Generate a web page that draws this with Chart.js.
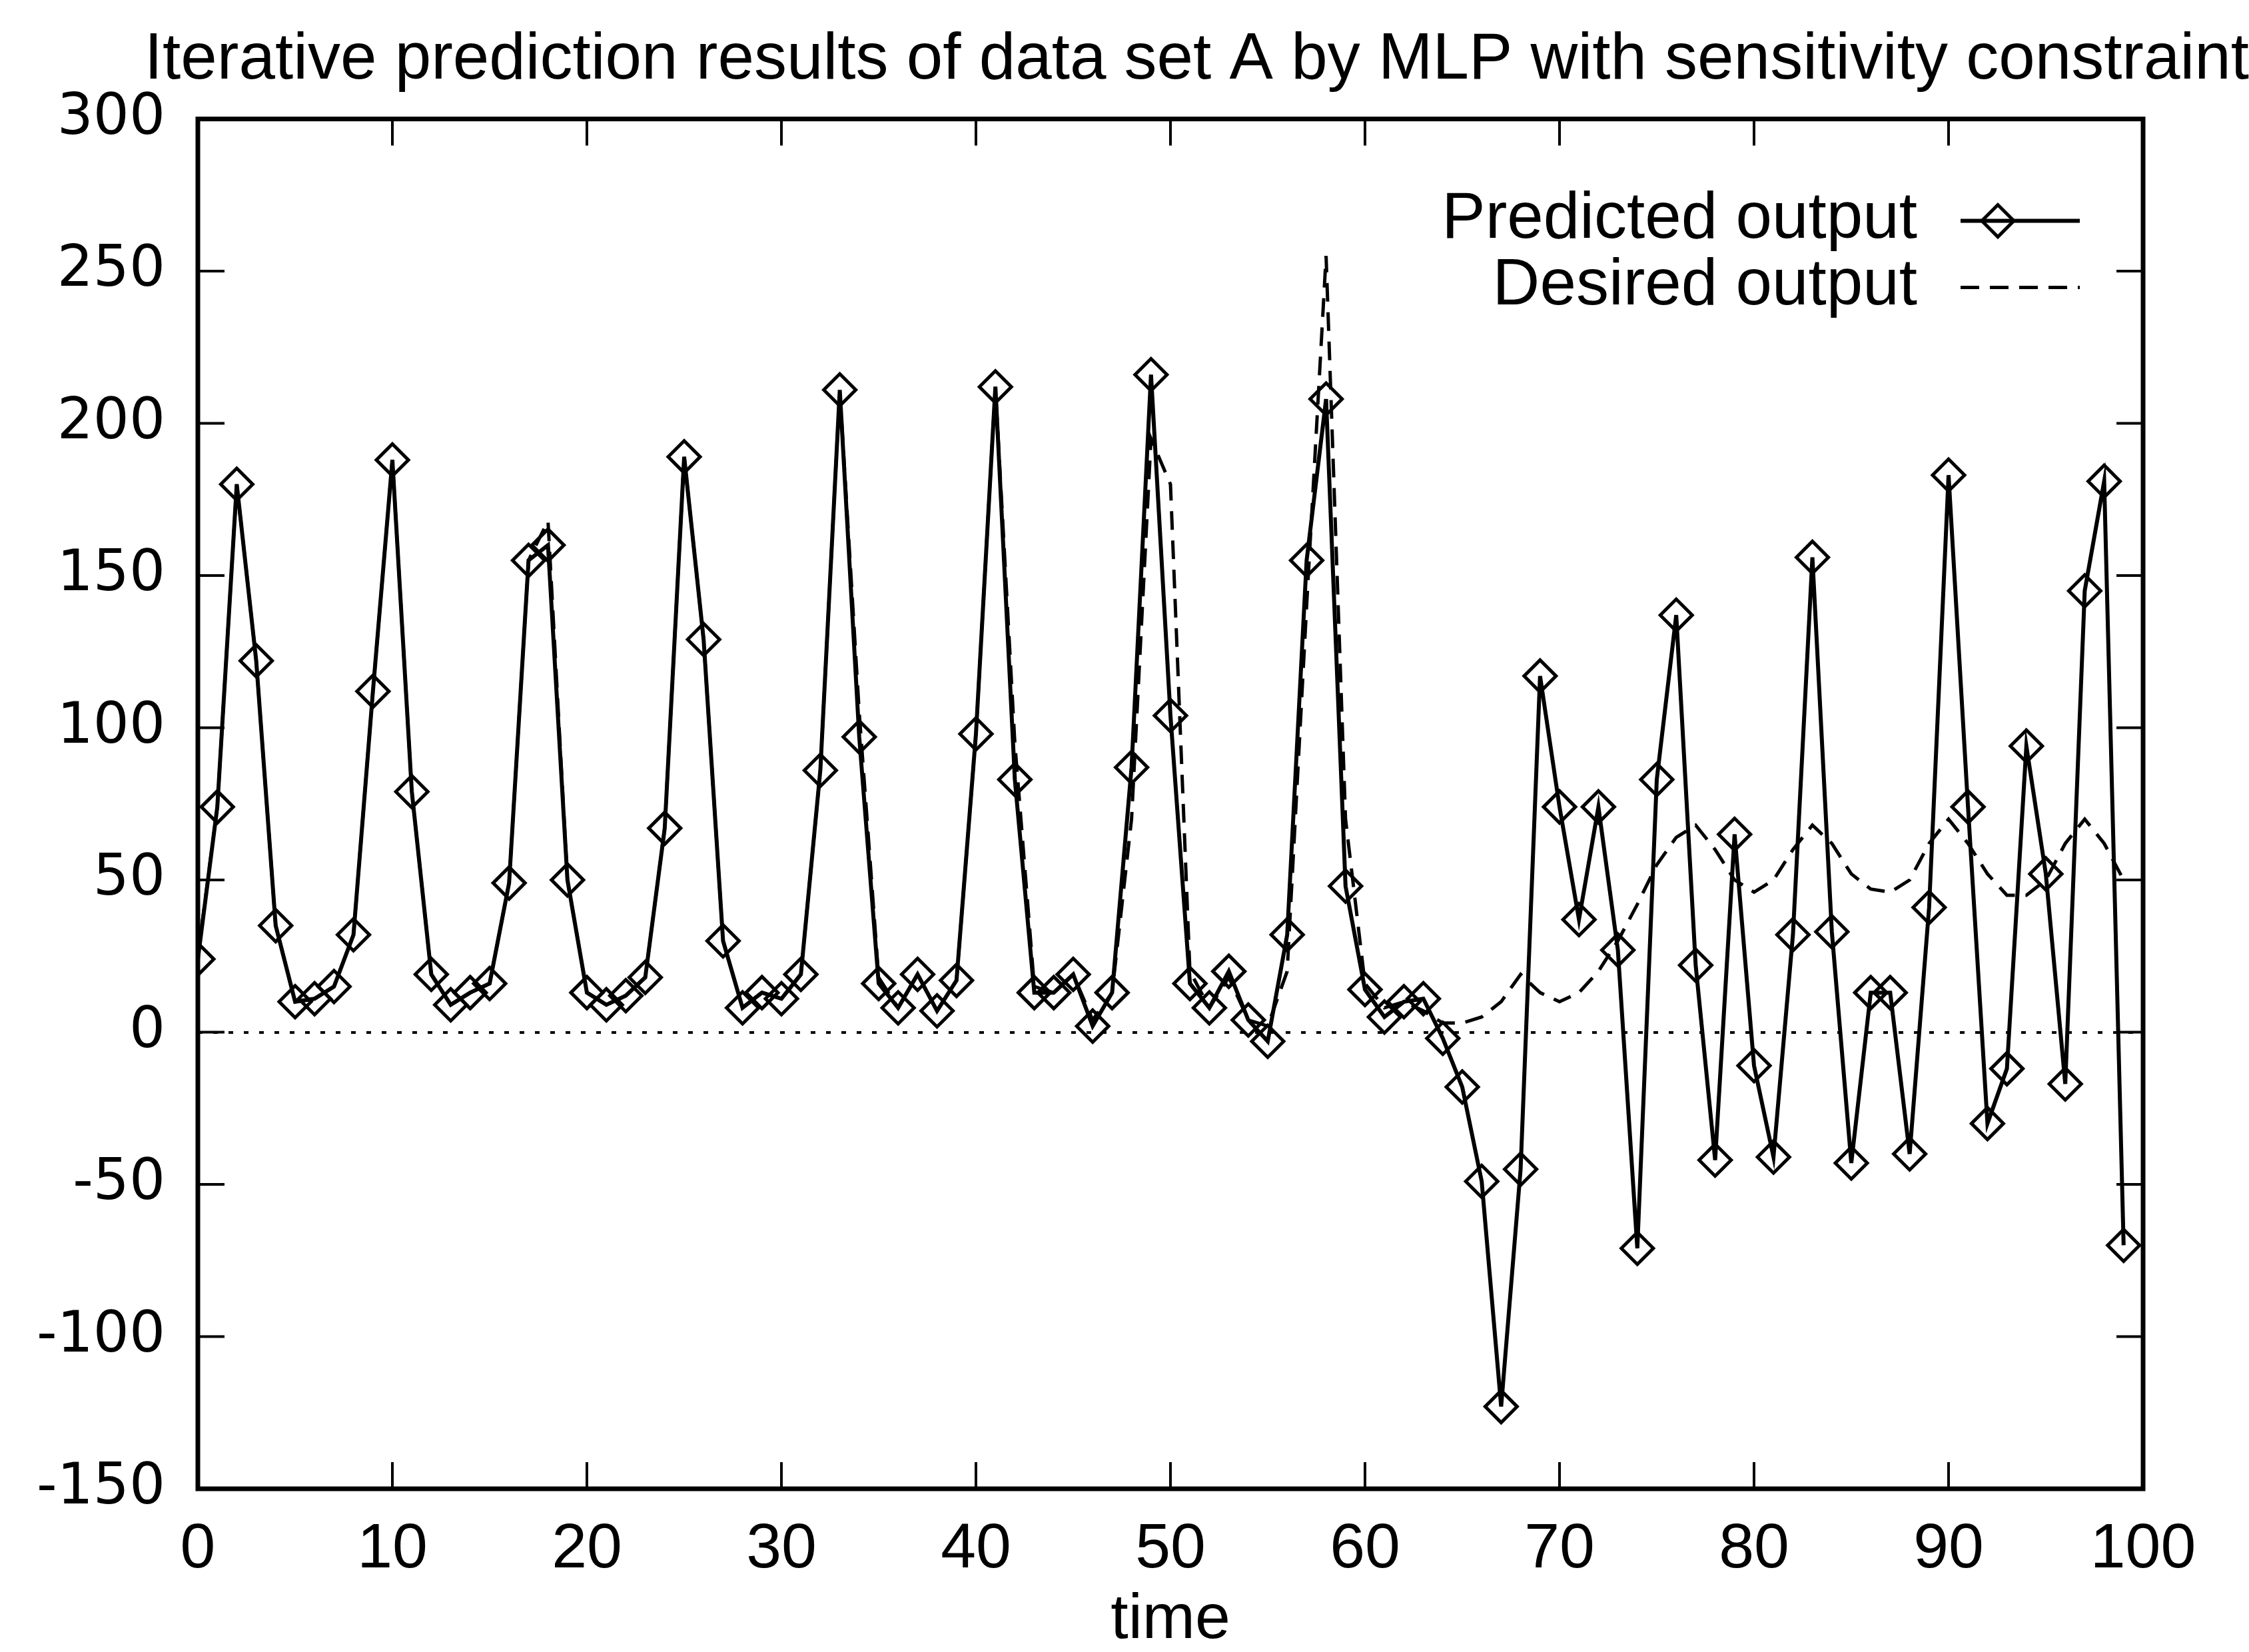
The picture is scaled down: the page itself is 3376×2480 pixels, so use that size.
<!DOCTYPE html>
<html>
<head>
<meta charset="utf-8">
<title>Iterative prediction results of data set A</title>
<script src="https://cdn.jsdelivr.net/npm/chart.js@4.4.1/dist/chart.umd.min.js"></script>
<style>
  html, body { margin: 0; padding: 0; background: #fff; }
  #wrap { width: 3376px; height: 2480px; }
</style>
</head>
<body>
<div id="wrap"><canvas id="chart" width="3376" height="2480"></canvas></div>
<script>
// time steps
const time = [
   0,  1,  2,  3,  4,  5,  6,  7,  8,  9,
  10, 11, 12, 13, 14, 15, 16, 17, 18, 19,
  20, 21, 22, 23, 24, 25, 26, 27, 28, 29,
  30, 31, 32, 33, 34, 35, 36, 37, 38, 39,
  40, 41, 42, 43, 44, 45, 46, 47, 48, 49,
  50, 51, 52, 53, 54, 55, 56, 57, 58, 59,
  60, 61, 62, 63, 64, 65, 66, 67, 68, 69,
  70, 71, 72, 73, 74, 75, 76, 77, 78, 79,
  80, 81, 82, 83, 84, 85, 86, 87, 88, 89,
  90, 91, 92, 93, 94, 95, 96, 97, 98, 99
];

// MLP iterative prediction (solid line with diamonds)
const predicted = [
   24,  74, 180, 122,  35,  10,  11,  15,  32, 112,
  188,  79,  19,   9,  13,  16,  49, 155, 160,  50,
   13,   9,  12,  18,  67, 189, 129,  30,   8,  13,
   11,  19,  86, 211,  97,  16,   8,  19,   7,  17,
   98, 212,  83,  13,  13,  19,   2,  13,  87, 216,
  104,  16,   8,  20,   4,  -3,  32, 155, 208,  48,
   14,   5,  10,  11,  -2, -18, -49,-123, -45, 117,
   74,  37,  74,  27, -71,  83, 137,  22, -42,  65,
  -11, -41,  32, 156,  33, -43,  13,  13, -40,  41,
  183,  74, -30, -12,  94,  52, -17, 145, 181, -70
];

// desired output (dashed line)
const desired = [
   25,  74, 180, 122,  35,  10,  11,  15,  32, 112,
  188,  79,  19,   9,  13,  16,  49, 155, 168,  50,
   13,   9,  12,  18,  67, 189, 129,  30,   8,  13,
   11,  19,  86, 211, 105,  18,   8,  19,   7,  17,
   98, 212,  95,  15,  13,  19,   4,  13,  70, 195,
  180,  20,   8,  18,   4,   2,  20, 140, 255,  70,
   16,   8,  10,   7,   3,   3,   5,  10,  19,  13,
   10,  13,  20,  30,  42,  55,  64,  68,  60,  50,
   46,  50,  60,  68,  62,  52,  47,  46,  50,  62,
   70,  62,  52,  45,  45,  50,  62,  70,  62,  50
];

const xTicks = [0, 10, 20, 30, 40, 50, 60, 70, 80, 90, 100];
const yTicks = [-150, -100, -50, 0, 50, 100, 150, 200, 250, 300];

const seriesNames = ['Predicted output', 'Desired output'];
const chartTitle = 'Iterative prediction results of data set A by MLP with sensitivity constraint';

const sansFont = '"Liberation Sans", Arial, Helvetica, sans-serif';

function toPoints(ys) {
    return time.map((t, i) => ({ x: t, y: ys[i] }));
}

function diamond(ctx, x, y, r) {
    ctx.beginPath();
    ctx.moveTo(x - r, y);
    ctx.lineTo(x, y - r);
    ctx.lineTo(x + r, y);
    ctx.lineTo(x, y + r);
    ctx.closePath();
    ctx.stroke();
}

// gnuplot style frame: box border, ticks pointing inward on all four sides, key in the corner
const gnuplotFrame = {
    id: 'gnuplotFrame',
    afterDraw(chart) {
        const { ctx, chartArea: ca, scales } = chart;
        const tickLen = 40;
        ctx.save();
        ctx.strokeStyle = '#000';
        ctx.lineCap = 'butt';

        ctx.lineWidth = 4;
        ctx.beginPath();
        xTicks.forEach(v => {
            const px = scales.x.getPixelForValue(v);
            ctx.moveTo(px, ca.bottom); ctx.lineTo(px, ca.bottom - tickLen);
            ctx.moveTo(px, ca.top); ctx.lineTo(px, ca.top + tickLen);
        });
        yTicks.forEach(v => {
            const py = scales.y.getPixelForValue(v);
            ctx.moveTo(ca.left, py); ctx.lineTo(ca.left + tickLen, py);
            ctx.moveTo(ca.right, py); ctx.lineTo(ca.right - tickLen, py);
        });
        ctx.stroke();

        ctx.lineWidth = 7;
        ctx.strokeRect(ca.left, ca.top, ca.right - ca.left, ca.bottom - ca.top);

        // key
        const ds = chart.data.datasets;
        const textRight = ca.right - 339;
        const x1 = ca.right - 274, x2 = ca.right - 95;
        ctx.fillStyle = '#000';
        ctx.font = '98px ' + sansFont;
        ctx.textAlign = 'right';
        ctx.textBaseline = 'alphabetic';
        ds.forEach((d, i) => {
            const base = ca.top + 178 + i * 100;
            const ly = base - 25;
            ctx.fillText(d.label, textRight, base);
            ctx.lineWidth = d.borderWidth;
            ctx.setLineDash(d.borderDash || []);
            ctx.beginPath();
            ctx.moveTo(x1, ly); ctx.lineTo(x2, ly);
            ctx.stroke();
            ctx.setLineDash([]);
            if (d.pointRadius > 0) {
                ctx.lineWidth = d.pointBorderWidth;
                diamond(ctx, ca.right - 218, ly, d.pointRadius);
            }
        });
        ctx.restore();
    }
};

new Chart(document.getElementById('chart'), {
    type: 'line',
    data: {
        datasets: [
            {
                label: seriesNames[0],
                data: toPoints(predicted),
                borderColor: '#000',
                borderWidth: 6,
                tension: 0,
                pointStyle: 'rectRot',
                pointRadius: 24,
                pointBorderWidth: 5,
                pointBorderColor: '#000',
                pointBackgroundColor: 'rgba(0,0,0,0)',
                order: 1
            },
            {
                label: seriesNames[1],
                data: toPoints(desired),
                borderColor: '#000',
                borderWidth: 5,
                borderDash: [28, 16],
                tension: 0,
                pointRadius: 0,
                order: 2
            }
        ]
    },
    options: {
        responsive: false,
        animation: false,
        devicePixelRatio: 1,
        layout: { padding: 0 },
        scales: {
            x: {
                type: 'linear',
                min: 0,
                max: 100,
                afterBuildTicks: s => { s.ticks = xTicks.map(v => ({ value: v })); },
                afterFit: s => { s.height = 245; },
                grid: { display: false, drawTicks: false },
                border: { display: false },
                ticks: {
                    color: '#000',
                    padding: 35,
                    maxRotation: 0,
                    autoSkip: false,
                    font: { family: sansFont, size: 95 }
                },
                title: {
                    display: true,
                    text: 'time',
                    color: '#000',
                    padding: 0,
                    font: { family: sansFont, size: 95, lineHeight: 1.0 }
                }
            },
            y: {
                type: 'linear',
                min: -150,
                max: 300,
                afterBuildTicks: s => { s.ticks = yTicks.map(v => ({ value: v })); },
                afterFit: s => { s.width = 297; },
                grid: {
                    drawTicks: false,
                    color: '#000',
                    lineWidth: c => (c.tick && c.tick.value === 0 ? 4 : 0)
                },
                border: { display: false, dash: [7, 16] },
                ticks: {
                    color: '#000',
                    padding: 49,
                    autoSkip: false,
                    font: { family: '"DejaVu Sans", Verdana, sans-serif', size: 85 }
                }
            },
            yRight: {
                position: 'right',
                display: true,
                grid: { display: false, drawTicks: false },
                border: { display: false },
                ticks: { display: false },
                afterFit: s => { s.width = 159; }
            }
        },
        plugins: {
            legend: { display: false },
            tooltip: { enabled: false },
            title: {
                display: true,
                text: chartTitle,
                align: 'end',
                color: '#000',
                padding: { top: 32, bottom: 29 },
                font: { family: sansFont, size: 98, weight: 'normal', lineHeight: 1.2 }
            }
        }
    },
    plugins: [gnuplotFrame]
});
</script>
</body>
</html>
